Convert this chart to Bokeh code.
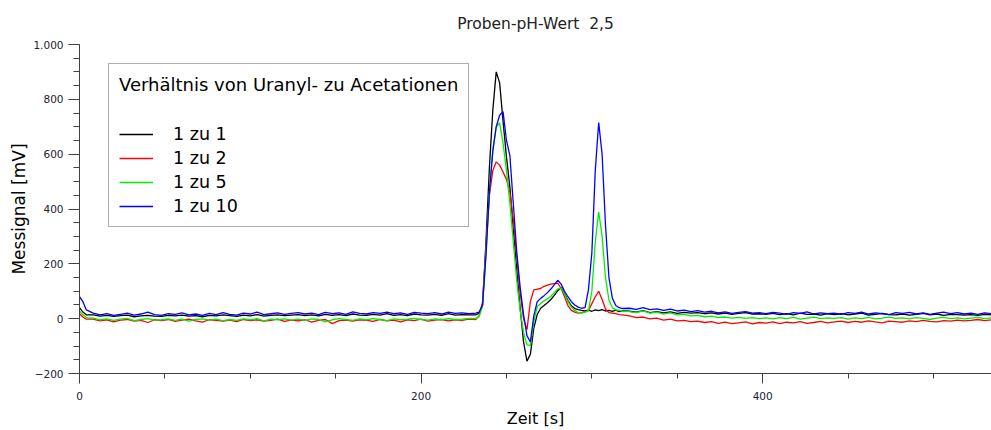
from bokeh.plotting import figure
from bokeh.models import SingleIntervalTicker, Range1d, Legend, LegendItem
from bokeh.embed import file_html
from bokeh.resources import INLINE

titel = "Proben-pH-Wert\u00a0 2,5"
x_label = "Zeit [s]"
y_label = "Messignal [mV]"
legend_title = "Verhältnis von Uranyl- zu Acetationen"
serien_namen = ["1 zu 1", "1 zu 2", "1 zu 5", "1 zu 10"]
serien_farben = ["#000000", "#ff0000", "#00f000", "#0000ff"]

# sampling times [s]
zeit_vor = [0, 2, 4] + list(range(8, 232, 4))
zeit_peak = list(range(232, 320, 2))
zeit_nach = list(range(322, 535, 4))
zeit = zeit_vor + zeit_peak + zeit_nach

# signal [mV], 1 zu 1
schwarz = [
    40, 24, 14,
    14, 9, 12, 8, 11, 13, 7, 10, 12, 9,
    8, 12, 10, 13, 9, 11, 7, 12, 10, 14,
    11, 8, 13, 10, 15, 9, 12, 14, 11, 13,
    15, 11, 14, 10, 16, 12, 15, 11, 17, 13,
    12, 16, 13, 18, 12, 15, 11, 17, 14, 13,
    16, 12, 18, 13, 15, 14,
    14, 20, 50, 280, 550, 760, 900, 860, 720, 590,
    480, 330, 180, 40, -85, -155, -130, -35, 15, 38,
    48, 58, 70, 85, 102, 114, 92, 66, 47, 37,
    33, 30, 28, 31, 27, 32, 29, 33, 28, 30,
    27, 31, 26, 29,
    27, 24, 29, 22, 26, 21, 25, 19, 23, 20,
    22, 18, 21, 17, 20, 16, 19, 22, 17, 18,
    16, 19, 15, 18, 14, 20, 16, 17, 13, 18,
    15, 18, 14, 17, 20, 13, 16, 19, 15, 14,
    17, 13, 16, 19, 14, 17, 12, 16, 15, 13,
    15, 12, 16, 14,
]

# signal [mV], 1 zu 2
rot = [
    18, 6, -2,
    -2, -8, -4, -12, -5, -3, -9, -6, -14, -4,
    -7, -3, -10, -5, -2, -8, -13, -4, -6, -9,
    -5, -11, -3, -7, -4, -9, -6, -2, -10, -5,
    -8, -4, -13, -6, -3, -18, -7, -5, -9, -4,
    -6, -10, -3, -8, -5, -12, -4, -7, -2, -9,
    -5, -3, -8, -4, -6, -2,
    -3, 10, 60, 260, 450, 540, 572, 560, 535, 508,
    460, 360, 225, 95, 0, -40, 62, 105, 108, 110,
    118, 122, 126, 128, 130, 110, 80, 48, 30, 24,
    20, 22, 25, 30, 55, 80, 100, 70, 35, 22,
    20, 18, 15, 14,
    10, 4, 6, -1, 2, -5, -2, -8, -6, -11,
    -9, -14, -11, -17, -13, -18, -15, -12, -19, -14,
    -16, -12, -18, -13, -15, -11, -17, -14, -10, -15,
    -12, -9, -14, -10, -13, -8, -12, -15, -9, -11,
    -13, -8, -11, -6, -10, -12, -7, -9, -5, -8,
    -6, -3, -7, -4,
]

# signal [mV], 1 zu 5
gruen = [
    28, 14, 4,
    2, -4, -1, -6, -2, 1, -7, -3, 0, -5,
    -4, -1, -6, -2, -9, -3, -1, -5, -2, -7,
    -3, -6, -1, -4, 0, -8, -2, -4, -1, -5,
    -2, -6, -1, -3, -12, -4, 0, -3, -6, -1,
    -4, 0, -3, -7, -1, -4, -2, 1, -3, -5,
    -1, -4, 0, -3, -2, 1,
    0, 8, 45, 240, 460, 615, 700, 714, 640, 540,
    420, 280, 140, 30, -50, -95, -98, -12, 44, 55,
    65, 72, 82, 95, 108, 112, 90, 62, 42, 30,
    22, 20, 24, 28, 100, 280, 390, 300, 150, 68,
    40, 32, 30, 28,
    26, 22, 28, 20, 24, 17, 21, 14, 16, 10,
    12, 7, 9, 4, 6, 2, 5, 1, 4, 0,
    3, -1, 4, 0, 5, -2, 2, 6, 0, 3,
    1, 4, -2, 3, 0, 5, -1, 2, 6, 1,
    3, -1, 4, 1, -3, 2, 5, 0, 3, -1,
    2, 5, 0, 3,
]

# signal [mV], 1 zu 10
blau = [
    80, 62, 32,
    20, 14, 18, 12, 16, 20, 13, 17, 24, 15,
    12, 18, 16, 21, 14, 17, 12, 19, 15, 22,
    16, 13, 20, 17, 24, 15, 18, 21, 16, 19,
    22, 17, 20, 15, 23, 18, 21, 16, 25, 19,
    17, 22, 19, 24, 18, 21, 16, 23, 20, 18,
    22, 17, 24, 19, 21, 18,
    20, 24, 50, 230, 460, 610, 700, 742, 755, 650,
    595, 420, 245, 115, 15, -62, -85, 10, 62, 74,
    84, 95, 108, 124, 140, 126, 100, 80, 62, 50,
    42, 38, 40, 105, 240, 540, 715, 600, 340, 150,
    75, 48, 40, 37,
    38, 34, 40, 33, 36, 30, 35, 28, 31, 26,
    29, 24, 27, 21, 25, 19, 23, 26, 20, 22,
    18, 23, 20, 16, 22, 19, 25, 17, 21, 18,
    20, 16, 22, 19, 24, 17, 21, 18, 15, 22,
    19, 23, 17, 21, 16, 20, 24, 18, 22, 17,
    20, 16, 21, 18,
]

y_tick_overrides = {1000: "1.000", -200: "\u2212200"}

FONT = "DejaVu Sans"

p = figure(width=991, height=430, output_backend="svg", toolbar_location=None,
           x_range=Range1d(0, 534), y_range=Range1d(-200, 1000),
           min_border_left=79, min_border_right=0, min_border_top=42,
           min_border_bottom=56, title=titel)
p.outline_line_color = None
p.grid.visible = False
p.background_fill_color = "white"
p.border_fill_color = "white"

p.title.align = "center"
p.title.text_font = FONT
p.title.text_font_size = "15.5px"
p.title.text_font_style = "normal"
p.title.text_color = "#222222"
p.title.standoff = 24

p.xaxis.ticker = SingleIntervalTicker(interval=200, num_minor_ticks=4)
p.yaxis.ticker = SingleIntervalTicker(interval=200, num_minor_ticks=4)
p.yaxis.major_label_overrides = y_tick_overrides

for ax in (p.xaxis[0], p.yaxis[0]):
    ax.axis_line_color = "#404040"
    ax.major_tick_line_color = "#404040"
    ax.minor_tick_line_color = "#404040"
    ax.major_tick_in = 0
    ax.minor_tick_in = 0
    ax.major_label_text_font = FONT
    ax.major_label_text_font_size = "10.5px"
    ax.major_label_text_color = "#222233"
    ax.axis_label_text_font = FONT
    ax.axis_label_text_font_style = "normal"
    ax.axis_label_text_color = "#000000"

p.xaxis.major_tick_out = 10
p.xaxis.minor_tick_out = 5
p.xaxis.major_label_standoff = 8
p.xaxis.axis_label = x_label
p.xaxis.axis_label_text_font_size = "16px"
p.xaxis.axis_label_standoff = 6

p.yaxis.major_tick_out = 11
p.yaxis.minor_tick_out = 6
p.yaxis.major_label_standoff = 5
p.yaxis.axis_label = y_label
p.yaxis.axis_label_text_font_size = "17px"
p.yaxis.axis_label_standoff = 1

items = []
for name, farbe, werte in zip(serien_namen, serien_farben, [schwarz, rot, gruen, blau]):
    r = p.line(zeit, werte, line_color=farbe, line_width=1.3)
    items.append(LegendItem(label=name, renderers=[r]))

legend = Legend(items=items, location=(29, 146), title=legend_title,
                title_text_font=FONT, title_text_font_size="18px",
                title_text_font_style="normal", title_text_color="#000000",
                label_text_font=FONT, label_text_font_size="17.5px",
                label_text_color="#000000",
                padding=10, spacing=4, glyph_width=34, glyph_height=20,
                label_height=20, label_standoff=20, title_standoff=29,
                border_line_color="#606060", border_line_width=1.5,
                background_fill_color="white", background_fill_alpha=1.0,
                margin=0)
p.add_layout(legend)

open("out.html", "w").write(file_html(p, INLINE))
